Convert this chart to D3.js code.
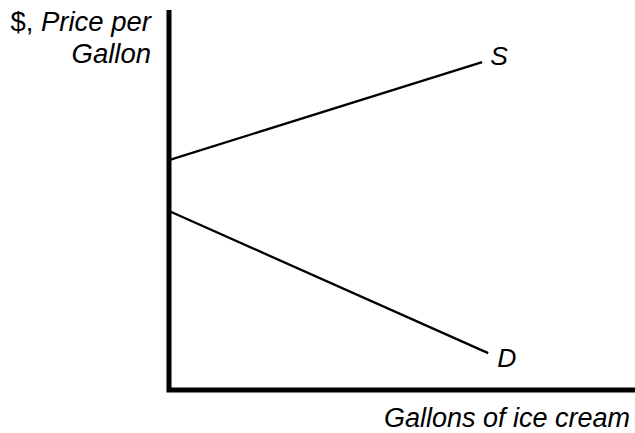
<!DOCTYPE html>
<meta charset="utf-8">
<head>
  <style>
    html, body { margin: 0; padding: 0; background: #fff; }
    svg text { font-family: "Liberation Sans", Arial, sans-serif; fill: #000; }
  </style>
</head>
<script src="https://cdn.jsdelivr.net/npm/d3@7"></script>
<body>
<script>
  // curve end points, quantity (0-100) and price (0-100)
  var supplyQ = [0, 67.2];
  var supplyP = [60.5, 86.3];
  var demandQ = [0, 68.5];
  var demandP = [47.1, 9.7];
  var curveNames = ["S", "D"];

  var width = 635, height = 433;

  var svg = d3.select("body").append("svg")
    .attr("width", width)
    .attr("height", height);

  var x = d3.scaleLinear().domain([0, 100]).range([169, 635]);
  var y = d3.scaleLinear().domain([0, 100]).range([390, 10]);

  var line = d3.line()
    .x(function(d) { return x(d[0]); })
    .y(function(d) { return y(d[1]); });

  // axes as one bent path
  svg.append("path")
    .attr("d", line([[0, 100], [0, 0], [100, 0]]))
    .attr("fill", "none")
    .attr("stroke", "#000")
    .attr("stroke-width", 5)
    .attr("stroke-linejoin", "miter");

  var curves = [
    d3.zip(supplyQ, supplyP),
    d3.zip(demandQ, demandP)
  ];

  curves.forEach(function(pts, i) {
    svg.append("path")
      .attr("d", line(pts))
      .attr("fill", "none")
      .attr("stroke", "#000")
      .attr("stroke-width", 2.3);

    var end = pts[pts.length - 1];
    svg.append("text")
      .attr("x", x(end[0]) + (i == 0 ? 8 : 9))
      .attr("y", y(end[1]) + (i == 0 ? 3 : 14))
      .attr("font-size", 26.5)
      .attr("font-style", "italic")
      .text(curveNames[i]);
  });

  // y title
  var yt = svg.append("text")
    .attr("x", 151)
    .attr("y", 31)
    .attr("font-size", 27.5)
    .attr("text-anchor", "end");
  yt.append("tspan").text("$, ");
  yt.append("tspan").attr("font-style", "italic").text("Price per");

  svg.append("text")
    .attr("x", 151)
    .attr("y", 63)
    .attr("font-size", 27.5)
    .attr("font-style", "italic")
    .attr("text-anchor", "end")
    .text("Gallon");

  // x title
  svg.append("text")
    .attr("x", 630)
    .attr("y", 427)
    .attr("font-size", 27)
    .attr("font-style", "italic")
    .attr("text-anchor", "end")
    .text("Gallons of ice cream");
</script>
</body>
